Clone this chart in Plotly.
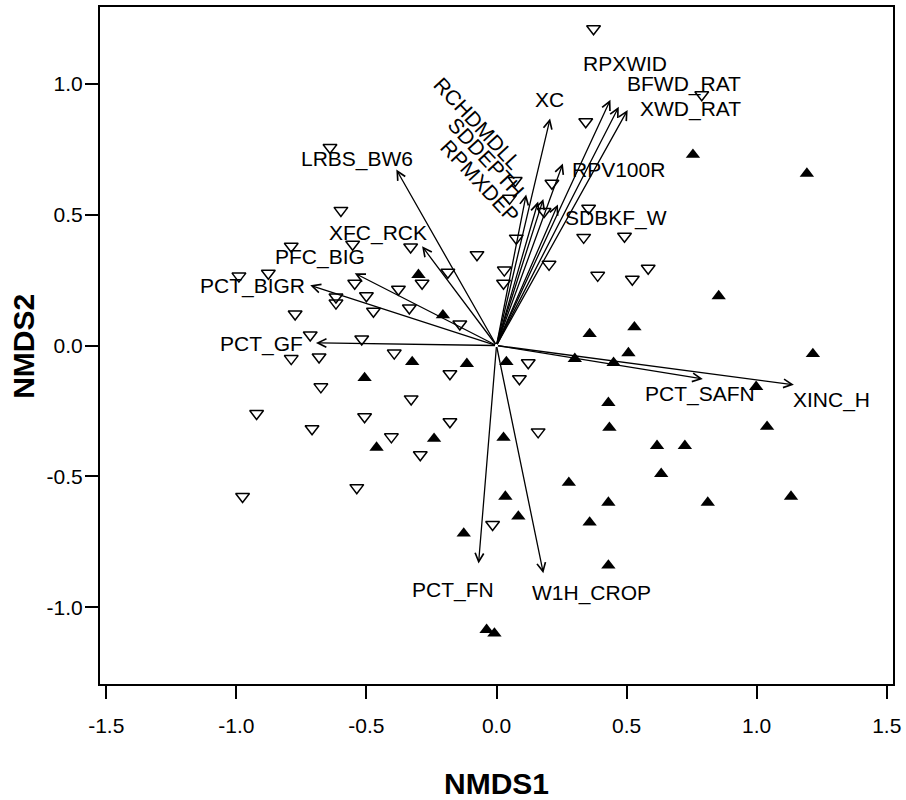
import plotly.graph_objects as go

# Site scores: open down-triangles (group 1)
g1_x = [0.373, 0.343, 0.789, -0.64, -0.598, -0.553, -0.33, -0.075, -0.187, -0.286,
        -0.545, -0.377, -0.5, -0.617, -0.789, -0.877, -0.99, -0.774, -0.617, -0.473,
        -0.335, -0.141, -0.716, -0.518, -0.682, -0.789, -0.393, -0.179, -0.675, -0.922,
        -0.328, -0.507, -0.179, -0.709, -0.404, -0.293, -0.537, -0.976, 0.122, 0.088,
        0.16, -0.015, 0.03, 0.027, 0.076, 0.202, 0.335, 0.492, 0.389, 0.522,
        0.583, 0.354, 0.183, 0.213, 0.072, 0.05]
g1_y = [1.21, 0.855, 0.958, 0.756, 0.516, 0.387, 0.376, 0.347, 0.28, 0.238,
        0.238, 0.215, 0.19, 0.185, 0.379, 0.276, 0.265, 0.12, 0.162, 0.131,
        0.143, 0.082, 0.04, 0.025, -0.044, -0.05, -0.029, -0.108, -0.158, -0.26,
        -0.204, -0.272, -0.291, -0.318, -0.349, -0.417, -0.543, -0.577, -0.066, -0.127,
        -0.33, -0.684, 0.288, 0.238, 0.41, 0.31, 0.413, 0.417, 0.268, 0.253,
        0.295, 0.524, 0.512, 0.62, 0.63, 0.562]

# Site scores: filled up-triangles (group 2)
g2_x = [-0.30, -0.206, -0.324, -0.114, -0.507, -0.24, -0.461, 0.038, 0.358, 0.301,
        0.027, 0.278, 0.034, 0.084, -0.126, 0.358, 0.53, 0.507, 0.45, 1.216,
        0.998, 0.43, 0.434, 1.04, 0.617, 0.724, 0.633, 0.43, 0.812, 1.132,
        0.755, 1.193, 0.854, -0.038, -0.008, 0.43]
g2_y = [0.27, 0.116, -0.063, -0.07, -0.124, -0.356, -0.39, -0.063, 0.044, -0.051,
        -0.352, -0.524, -0.577, -0.653, -0.718, -0.676, 0.07, -0.029, -0.066, -0.032,
        -0.158, -0.219, -0.314, -0.31, -0.383, -0.383, -0.49, -0.6, -0.6, -0.577,
        0.729, 0.657, 0.189, -1.086, -1.10, -0.84]

# Environmental vectors
vec_names = ["LRBS_BW6", "XFC_RCK", "PFC_BIG", "PCT_BIGR", "PCT_GF", "XC", "RPV100R",
             "RPXWID", "BFWD_RAT", "XWD_RAT", "PCT_SAFN", "XINC_H", "PCT_FN", "W1H_CROP",
             "RCHDMDLL", "SDDEPTH", "RPMXDEP", "SDBKF_W"]
vec_x = [-0.385, -0.286, -0.545, -0.716, -0.694, 0.206, 0.255,
         0.438, 0.47, 0.504, 0.793, 1.143, -0.069, 0.18,
         0.114, 0.16, 0.18, 0.236]
vec_y = [0.672, 0.379, 0.276, 0.23, 0.01, 0.867, 0.695,
         0.939, 0.912, 0.9, -0.128, -0.15, -0.833, -0.87,
         0.577, 0.55, 0.56, 0.539]
label_x = [-0.537, -0.457, -0.678, -0.937, -0.903, 0.202, 0.469,
           0.492, 0.72, 0.747, 0.781, 1.288, -0.168, 0.366,
           -0.072, -0.04, -0.062, 0.461]
label_y = [0.714, 0.429, 0.337, 0.227, 0.006, 0.939, 0.672,
           1.076, 1.0, 0.905, -0.185, -0.208, -0.935, -0.947,
           0.848, 0.718, 0.627, 0.486]
label_angle = [0, 0, 0, 0, 0, 0, 0, 0, 0, 0, 0, 0, 0, 0, 47, 47, 47, 0]

x_ticks = [-1.5, -1.0, -0.5, 0.0, 0.5, 1.0, 1.5]
y_ticks = [-1.0, -0.5, 0.0, 0.5, 1.0]

FONT = "Liberation Sans, Arial, Helvetica, sans-serif"

fig = go.Figure()
fig.add_trace(go.Scatter(
    x=g1_x, y=g1_y, mode="markers",
    marker=dict(symbol="triangle-down-open", size=12, color="black", line=dict(width=1.5, color="black")),
    showlegend=False, hoverinfo="skip"))
fig.add_trace(go.Scatter(
    x=g2_x, y=g2_y, mode="markers",
    marker=dict(symbol="triangle-up", size=12.5, color="black", line=dict(width=0)),
    showlegend=False, hoverinfo="skip"))

annotations = []
for vx, vy in zip(vec_x, vec_y):
    annotations.append(dict(
        x=vx, y=vy, ax=0, ay=0, xref="x", yref="y", axref="x", ayref="y",
        text="", showarrow=True, arrowhead=5, arrowsize=1.3, arrowwidth=1.3,
        arrowcolor="black"))
for name, lx, ly, ang in zip(vec_names, label_x, label_y, label_angle):
    annotations.append(dict(
        x=lx, y=ly, xref="x", yref="y", text=name, showarrow=False,
        textangle=ang, xanchor="center", yanchor="middle",
        font=dict(family=FONT, size=21, color="black")))

annotations.append(dict(
    x=0.5, y=-0.147, xref="paper", yref="paper", text="<b>NMDS1</b>", showarrow=False,
    xanchor="center", yanchor="middle", font=dict(family=FONT, size=30, color="black")))
annotations.append(dict(
    x=-0.0975, y=0.499, xref="paper", yref="paper", text="<b>NMDS2</b>", showarrow=False,
    textangle=-90, xanchor="center", yanchor="middle", font=dict(family=FONT, size=30, color="black")))

fig.update_layout(
    width=906, height=800,
    margin=dict(l=100, r=6, t=5, b=116),
    paper_bgcolor="white", plot_bgcolor="white",
    annotations=annotations,
    font=dict(family=FONT, size=21, color="black"),
    xaxis=dict(range=[-1.524, 1.524], tickvals=x_ticks, ticktext=[f"{v:.1f}" for v in x_ticks],
               showgrid=False, zeroline=False, showline=True, linecolor="black", linewidth=2,
               mirror=True, ticks="outside", ticklen=13, tickwidth=1.5, tickcolor="black",
               ticklabelstandoff=9, ticklabeloverflow="allow",
               tickfont=dict(family=FONT, size=21, color="black")),
    yaxis=dict(range=[-1.293, 1.293], tickvals=y_ticks, ticktext=[f"{v:.1f}" for v in y_ticks],
               showgrid=False, zeroline=False, showline=True, linecolor="black", linewidth=2,
               mirror=True, ticks="outside", ticklen=13, tickwidth=1.5, tickcolor="black",
               ticklabelstandoff=-2, ticklabeloverflow="allow",
               tickfont=dict(family=FONT, size=21, color="black")),
)

fig.write_html("out.html", config={"displayModeBar": False},
               post_script="document.body.style.margin='0';document.body.style.overflow='hidden';")
